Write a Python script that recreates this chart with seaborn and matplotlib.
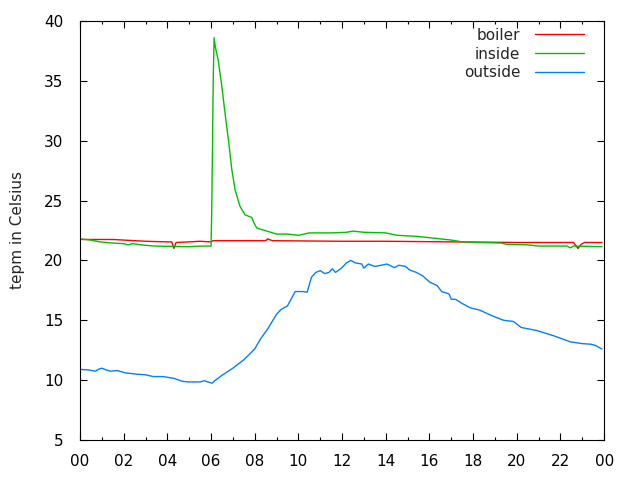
import matplotlib
matplotlib.use("Agg")
import matplotlib.pyplot as plt
from matplotlib.ticker import MultipleLocator, FixedLocator
import seaborn as sns
import pandas as pd

# ---- data (hours of day, temperature in Celsius) ----
outside_h = [0.0, 0.4, 0.7, 0.9, 1.0, 1.2, 1.4, 1.7, 2.1, 2.6, 3.0, 3.35, 3.8, 4.3, 4.7, 5.0,
             5.5, 5.7, 5.85, 6.05, 6.2, 6.5, 7.0, 7.5, 8.0, 8.25, 8.6, 9.0, 9.2, 9.5, 9.85,
             10.2, 10.4, 10.6, 10.8, 11.0, 11.2, 11.4, 11.55, 11.7, 12.0, 12.2, 12.4, 12.6,
             12.9, 13.0, 13.2, 13.5, 13.8, 14.05, 14.4, 14.6, 14.9, 15.1, 15.4, 15.7, 16.0,
             16.35, 16.56, 16.9, 17.0, 17.2, 17.5, 17.86, 18.3, 18.9, 19.4, 19.85, 20.2,
             20.9, 21.7, 22.45, 23.0, 23.4, 23.6, 23.9]
outside_t = [10.9, 10.85, 10.75, 10.95, 11.0, 10.85, 10.75, 10.8, 10.6, 10.5, 10.45, 10.3,
             10.3, 10.15, 9.9, 9.85, 9.85, 9.95, 9.85, 9.75, 10.0, 10.4, 11.0, 11.7, 12.6,
             13.4, 14.3, 15.5, 15.9, 16.2, 17.4, 17.4, 17.35, 18.6, 19.0, 19.15, 18.9, 19.0,
             19.3, 19.0, 19.4, 19.8, 20.0, 19.8, 19.7, 19.35, 19.7, 19.5, 19.6, 19.7, 19.4,
             19.6, 19.5, 19.2, 19.0, 18.7, 18.2, 17.9, 17.4, 17.2, 16.75, 16.75, 16.4, 16.05,
             15.85, 15.35, 15.0, 14.9, 14.4, 14.15, 13.7, 13.2, 13.05, 13.0, 12.9, 12.6]

inside_h = [0.0, 0.5, 0.9, 1.5, 2.0, 2.2, 2.4, 2.8, 3.4, 5.0, 5.5, 6.0, 6.03, 6.07, 6.1,
            6.14, 6.2, 6.33, 6.49, 6.64, 6.8, 6.95, 7.1, 7.33, 7.56, 7.86, 8.0, 8.1, 8.47,
            9.0, 9.5, 10.0, 10.5, 11.5, 12.2, 12.5, 13.0, 14.0, 14.5, 15.5, 16.0, 16.5, 17.0,
            17.5, 18.3, 19.3, 19.5, 20.5, 21.0, 22.3, 22.45, 22.6, 23.9]
inside_t = [21.8, 21.7, 21.55, 21.45, 21.4, 21.3, 21.4, 21.3, 21.2, 21.15, 21.2, 21.2, 24.0,
            30.0, 35.0, 38.6, 37.8, 36.7, 34.6, 32.3, 30.0, 27.6, 25.9, 24.5, 23.8, 23.6, 23.0,
            22.7, 22.5, 22.2, 22.2, 22.1, 22.3, 22.3, 22.35, 22.45, 22.35, 22.3, 22.1, 22.0,
            21.9, 21.8, 21.7, 21.55, 21.5, 21.45, 21.35, 21.3, 21.2, 21.2, 21.05, 21.2, 21.15]

boiler_h = [0.0, 1.5, 2.0, 2.5, 3.0, 4.0, 4.2, 4.3, 4.4, 5.0, 5.5, 6.0, 6.1, 8.5, 8.6, 8.8,
            12.0, 14.0, 20.0, 22.6, 22.8, 22.95, 23.1, 23.9]
boiler_t = [21.75, 21.75, 21.7, 21.65, 21.6, 21.55, 21.55, 21.0, 21.5, 21.55, 21.6, 21.55,
            21.65, 21.65, 21.8, 21.65, 21.6, 21.6, 21.5, 21.5, 21.0, 21.35, 21.5, 21.5]

series_names = ["boiler", "inside", "outside"]
series_colors = ["#ff0000", "#00c000", "#0080ff"]
x_tick_labels = ["00", "02", "04", "06", "08", "10", "12", "14", "16", "18", "20", "22", "00"]
y_label = "tepm in Celsius"

df = pd.concat([
    pd.DataFrame({"hour": boiler_h, "temp": boiler_t, "series": "boiler"}),
    pd.DataFrame({"hour": inside_h, "temp": inside_t, "series": "inside"}),
    pd.DataFrame({"hour": outside_h, "temp": outside_t, "series": "outside"}),
], ignore_index=True)

sns.set_style("ticks")
plt.rcParams["font.family"] = ["DejaVu Sans"]

fig = plt.figure(figsize=(6.4, 4.8), dpi=100)
ax = fig.add_axes([0.125, 0.0833, 0.819, 0.873])

sns.lineplot(data=df, x="hour", y="temp", hue="series", hue_order=series_names,
             palette=dict(zip(series_names, series_colors)), linewidth=1.0,
             estimator=None, sort=False, ax=ax)

ax.set_xlim(0, 24)
ax.set_ylim(5, 40)
ax.xaxis.set_major_locator(FixedLocator(list(range(0, 25, 2))))
ax.set_xticklabels(x_tick_labels)
ax.xaxis.set_minor_locator(MultipleLocator(1))
ax.yaxis.set_major_locator(MultipleLocator(5))
ax.tick_params(which="both", direction="in", top=True, right=True, colors="black",
               labelsize=11, width=0.8)
ax.tick_params(axis="y", which="major", length=5, pad=12)
ax.tick_params(axis="x", which="major", length=5, pad=10)
ax.tick_params(which="minor", length=2.5)
for s in ax.spines.values():
    s.set_visible(True)
    s.set_color("black")
    s.set_linewidth(0.8)

ax.set_xlabel("")
ax.set_ylabel(y_label, fontsize=11, labelpad=14)

leg = ax.legend(loc="upper right", frameon=False, markerfirst=False, fontsize=11,
                handlelength=3.2, handletextpad=1.0, labelspacing=0.25,
                bbox_to_anchor=(0.9885, 1.0167))
for t in leg.get_texts():
    t.set_ha("right")

fig.savefig("out.png", dpi=100)
